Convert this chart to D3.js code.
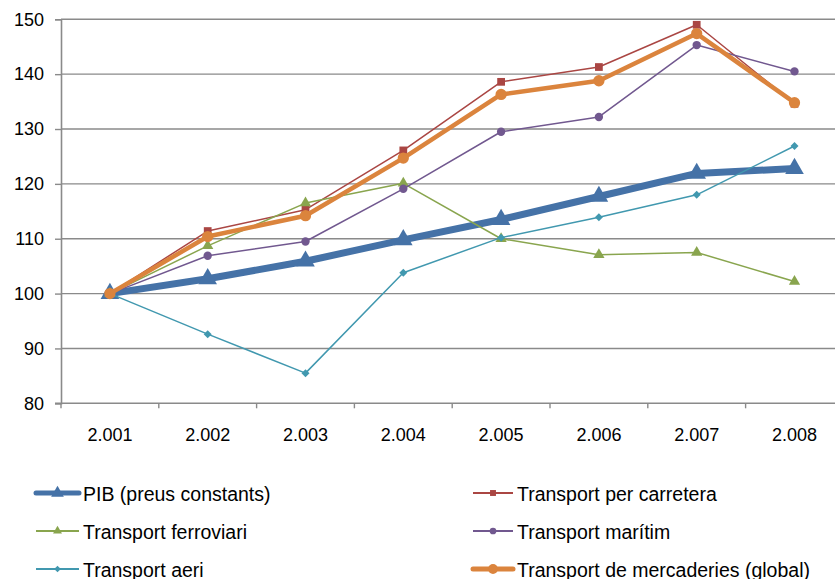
<!DOCTYPE html>
<html><head><meta charset="utf-8">
<script src="https://cdn.jsdelivr.net/npm/d3@7"></script>
<style>
html,body{margin:0;padding:0;background:#fff;}
svg{display:block;font-family:Arial,"Liberation Sans",sans-serif;}
</style></head>
<body>
<svg id="chart" width="835" height="579"></svg>
<script>
const years = ["2.001","2.002","2.003","2.004","2.005","2.006","2.007","2.008"];
const yTicks = [80,90,100,110,120,130,140,150];
const pib       = [100,102.7,105.9,109.8,113.5,117.7,121.9,122.8];
const carretera = [100,111.4,115.3,126.1,138.6,141.3,149.0,134.6];
const ferroviari= [100,108.7,116.5,120.1,110.0,107.1,107.5,102.2];
const maritim   = [100,106.9,109.5,119.1,129.5,132.2,145.3,140.5];
const aeri      = [100,92.6,85.5,103.8,110.2,113.9,118.0,126.9];
const global    = [100,110.4,114.2,124.7,136.3,138.8,147.4,134.8];
const seriesNames = ["PIB (preus constants)","Transport per carretera","Transport ferroviari","Transport marítim","Transport aeri","Transport de mercaderies (global)"];

const series = [
  {name:seriesNames[0], values:pib,        color:"#4572A7", width:7,   marker:"triangle", msize:150},
  {name:seriesNames[1], values:carretera,  color:"#AA4643", width:1.5, marker:"square",   msize:60},
  {name:seriesNames[2], values:ferroviari, color:"#89A54E", width:1.5, marker:"triangle", msize:55},
  {name:seriesNames[3], values:maritim,    color:"#71588F", width:1.5, marker:"circle",   msize:55},
  {name:seriesNames[4], values:aeri,       color:"#4198AF", width:1.5, marker:"diamond",  msize:32},
  {name:seriesNames[5], values:global,     color:"#DB843D", width:4.5, marker:"circle",   msize:100}
];

const svg = d3.select("#chart");
const x0 = 61, xEnd = 61 + 97.8*8;
const x = d3.scaleBand().domain(years).range([x0, xEnd]);
const y = d3.scaleLinear().domain([80,150]).range([403.3,19.3]);
const gridColor = "#8a8a8a";

// grid lines
svg.append("g").selectAll("line").data(yTicks.filter(d=>d>80)).join("line")
  .attr("x1", x0).attr("x2", 835)
  .attr("y1", d=>y(d)).attr("y2", d=>y(d))
  .attr("stroke", gridColor).attr("stroke-width", 1.4);

// y axis
const yAxis = d3.axisLeft(y).tickValues(yTicks).tickSize(6).tickPadding(11).tickFormat(d3.format("d"));
const gy = svg.append("g").attr("transform",`translate(${x0},0)`).call(yAxis);
gy.select(".domain").attr("stroke", gridColor).attr("stroke-width",1.6);
gy.selectAll(".tick line").attr("stroke", gridColor).attr("stroke-width",1.4);
gy.selectAll(".tick text").attr("font-size","18px").attr("fill","#000").attr("font-family","Arial, 'Liberation Sans', sans-serif");

// x axis
const xAxis = d3.axisBottom(x).tickSize(0).tickPadding(25);
const gx = svg.append("g").attr("transform",`translate(0,${y(80)})`).call(xAxis);
gx.select(".domain").remove();
gx.append("line").attr("x1",x0-6).attr("x2",835).attr("y1",0).attr("y2",0).attr("stroke",gridColor).attr("stroke-width",1.6);
gx.selectAll(".tick text").attr("font-size","18px").attr("fill","#000").attr("font-family","Arial, 'Liberation Sans', sans-serif");
// category boundary ticks
const bounds = years.map(d=>x(d)).concat([xEnd]);
gx.append("g").selectAll("line").data(bounds).join("line")
  .attr("x1",d=>d).attr("x2",d=>d).attr("y1",0).attr("y2",5)
  .attr("stroke",gridColor).attr("stroke-width",1.4);

const cx = d => x(d) + x.bandwidth()/2;
const symType = {triangle:d3.symbolTriangle, square:d3.symbolSquare, circle:d3.symbolCircle, diamond:d3.symbolSquare};
const rot = m => m==="diamond" ? " rotate(45)" : "";
const line = d3.line().x((d,i)=>cx(years[i])).y(d=>y(d));

series.forEach(s=>{
  const g = svg.append("g");
  g.append("path").datum(s.values).attr("d", line)
    .attr("fill","none").attr("stroke", s.color).attr("stroke-width", s.width)
    .attr("stroke-linejoin","round");
  g.selectAll("path.m").data(s.values).join("path").attr("class","m")
    .attr("transform",(d,i)=>`translate(${cx(years[i])},${y(d)})` + rot(s.marker))
    .attr("d", d3.symbol().type(symType[s.marker]).size(s.msize))
    .attr("fill", s.color);
});

// legend
const legPos = [
  {lx:36, tx:83, ly:493},
  {lx:473, tx:517, ly:493},
  {lx:36, tx:83, ly:531},
  {lx:473, tx:517, ly:531},
  {lx:36, tx:83, ly:569},
  {lx:473, tx:517, ly:569}
];
series.forEach((s,i)=>{
  const p = legPos[i];
  const g = svg.append("g");
  const lw = (i===0) ? 5 : (i===5 ? 5 : 2);
  g.append("line").attr("x1",p.lx).attr("x2",p.tx-4).attr("y1",p.ly).attr("y2",p.ly)
    .attr("stroke",s.color).attr("stroke-width",lw).attr("stroke-linecap", (i===0||i===5)?"round":"butt");
  g.append("path").attr("transform",`translate(${(p.lx+p.tx-4)/2},${p.ly})` + rot(s.marker))
    .attr("d", d3.symbol().type(symType[s.marker]).size(i===0?70:(i===5?75:(s.marker==="diamond"?22:35))))
    .attr("fill", s.color);
  g.append("text").attr("x",p.tx).attr("y",p.ly+8)
    .attr("font-size","19.5px").attr("fill","#000").text(s.name);
});
</script>
</body></html>
